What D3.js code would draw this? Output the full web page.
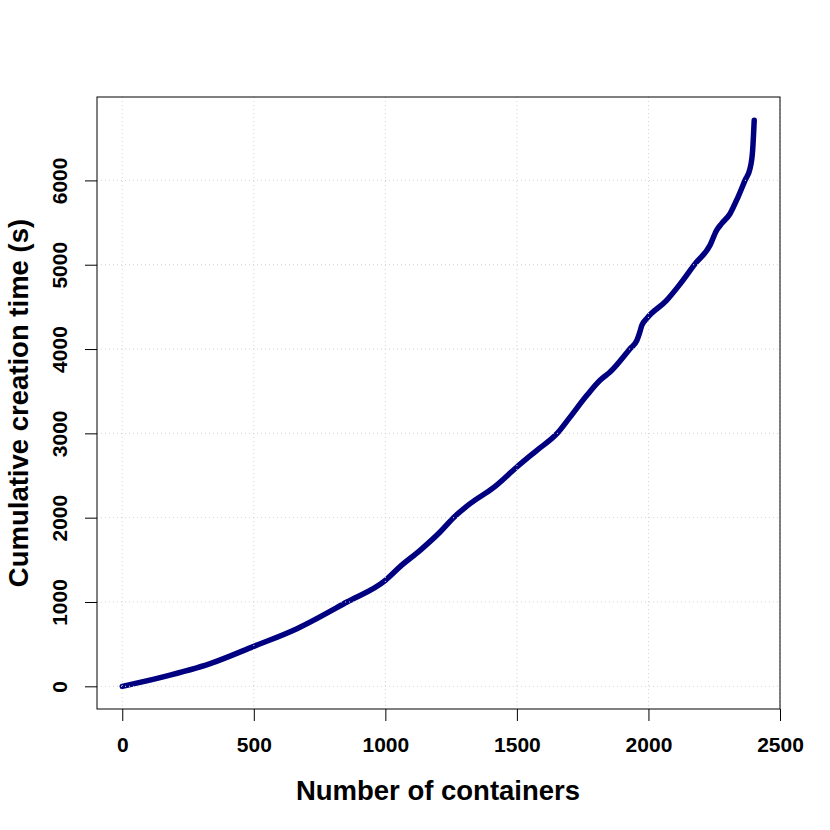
<!DOCTYPE html>
<html>
<head>
<meta charset="utf-8">
<script src="https://cdn.jsdelivr.net/npm/d3@7"></script>
<style>
  body { margin: 0; background: #fff; }
  text { font-family: "Liberation Sans", Arial, sans-serif; font-weight: bold; }
</style>
</head>
<body>
<svg width="830" height="830"></svg>
<script>
// number of containers created so far
var containers = [0, 144, 334, 500, 664, 854, 1000, 1056, 1132, 1208, 1259, 1322, 1411,
    1500, 1576, 1652, 1702, 1766, 1816, 1854, 1930, 1956, 1966, 1975, 1993, 2069, 2120,
    2177, 2234, 2259, 2278, 2310, 2340, 2367, 2386, 2396, 2402];
// cumulative creation time in seconds
var cumTime = [0, 103, 269, 474, 684, 1000, 1257, 1420, 1613, 1830, 2000, 2166, 2356,
    2601, 2799, 2996, 3193, 3451, 3629, 3727, 4004, 4103, 4190, 4281, 4360, 4577, 4770,
    5010, 5230, 5408, 5487, 5605, 5800, 6000, 6139, 6356, 6712];

var xTicks = [0, 500, 1000, 1500, 2000, 2500];
var yTicks = [0, 1000, 2000, 3000, 4000, 5000, 6000];

var svg = d3.select("svg");

var x = d3.scaleLinear().domain([-96, 2500]).range([97, 780]);
var y = d3.scaleLinear().domain([-269, 6989]).range([709, 97]);

var data = containers.map(function (d, i) { return { n: d, t: cumTime[i] }; });

var line = d3.line()
    .x(function (d) { return x(d.n); })
    .y(function (d) { return y(d.t); })
    .curve(d3.curveMonotoneX);

svg.append("path")
    .datum(data)
    .attr("d", line)
    .attr("fill", "none")
    .attr("stroke", "#000080")
    .attr("stroke-width", 5.5)
    .attr("stroke-linecap", "round")
    .attr("stroke-linejoin", "round");

// grid (drawn on top, like grid() after plot in R)
var grid = svg.append("g")
    .attr("stroke", "#d3d3d3")
    .attr("stroke-width", 1)
    .attr("stroke-dasharray", "1,3");

grid.selectAll(".vg")
    .data(xTicks)
    .enter().append("line")
    .attr("x1", function (d) { return x(d); })
    .attr("x2", function (d) { return x(d); })
    .attr("y1", 97)
    .attr("y2", 709);

grid.selectAll(".hg")
    .data(yTicks)
    .enter().append("line")
    .attr("x1", 97)
    .attr("x2", 780)
    .attr("y1", function (d) { return y(d); })
    .attr("y2", function (d) { return y(d); });

// box
svg.append("rect")
    .attr("x", 97)
    .attr("y", 97)
    .attr("width", 683)
    .attr("height", 612)
    .attr("fill", "none")
    .attr("stroke", "#000")
    .attr("stroke-width", 1);

// x axis
var xAxis = svg.append("g")
    .attr("transform", "translate(0,709)")
    .call(d3.axisBottom(x).tickValues(xTicks).tickSize(12).tickFormat(d3.format("d")));
xAxis.select(".domain").remove();
xAxis.selectAll(".tick line").attr("stroke", "#000");
xAxis.selectAll(".tick text")
    .attr("y", 43)
    .attr("dy", null)
    .attr("fill", "#000")
    .style("font-size", "21px")
    .style("font-family", "Liberation Sans, Arial, sans-serif")
    .style("font-weight", "bold");

// y axis
var yAxis = svg.append("g")
    .attr("transform", "translate(97,0)")
    .call(d3.axisLeft(y).tickValues(yTicks).tickSize(12).tickFormat(d3.format("d")));
yAxis.select(".domain").remove();
yAxis.selectAll(".tick line").attr("stroke", "#000");
yAxis.selectAll(".tick text")
    .attr("x", null)
    .attr("dy", null)
    .attr("text-anchor", "middle")
    .attr("transform", "translate(-30,0) rotate(-90)")
    .attr("fill", "#000")
    .style("font-size", "21px")
    .style("font-family", "Liberation Sans, Arial, sans-serif")
    .style("font-weight", "bold");

// axis titles
svg.append("text")
    .attr("x", 438)
    .attr("y", 800)
    .attr("text-anchor", "middle")
    .style("font-size", "27.5px")
    .text("Number of containers");

svg.append("text")
    .attr("transform", "translate(28,403) rotate(-90)")
    .attr("text-anchor", "middle")
    .style("font-size", "27.5px")
    .text("Cumulative creation time (s)");
</script>
</body>
</html>
